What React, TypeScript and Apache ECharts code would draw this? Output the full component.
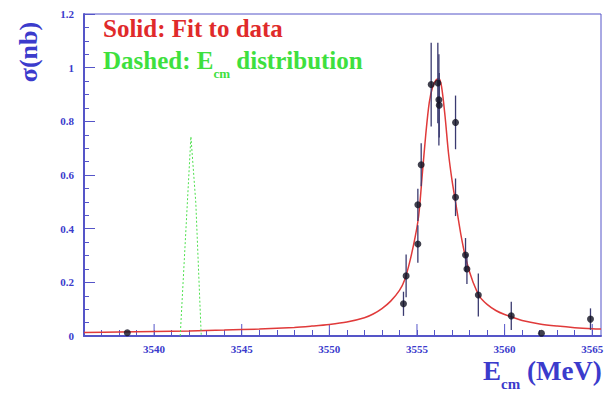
import React, { useEffect, useRef } from "react";
import * as echarts from "echarts";

// Fit curve
const fitE = [3536.0, 3538.0, 3540.0, 3542.0, 3544.0, 3546.0, 3548.0, 3549.0, 3550.0, 3551.0, 3552.0, 3552.5, 3553.0, 3553.5, 3554.0, 3554.3, 3554.6, 3554.9, 3555.1, 3555.3, 3555.5, 3555.7, 3555.9, 3556.1, 3556.25, 3556.4, 3556.6, 3556.8, 3557.0, 3557.2, 3557.5, 3557.8, 3558.2, 3558.6, 3559.0, 3559.5, 3560.0, 3560.5, 3561.0, 3562.0, 3563.0, 3564.0, 3565.0, 3565.5];
const fitSigma = [0.013, 0.015, 0.017, 0.019, 0.022, 0.026, 0.032, 0.037, 0.043, 0.052, 0.068, 0.082, 0.102, 0.13, 0.17, 0.21, 0.28, 0.37, 0.45, 0.6, 0.75, 0.87, 0.93, 0.955, 0.96, 0.93, 0.82, 0.68, 0.58, 0.5, 0.38, 0.285, 0.2, 0.145, 0.118, 0.095, 0.08, 0.069, 0.058, 0.045, 0.037, 0.031, 0.027, 0.026];

// Ecm distribution (dashed)
const distE = [3541.49, 3542.1, 3542.38, 3542.69];
const distVal = [0.0, 0.743, 0.496, 0.0];

// Measured points
const ptE = [3538.47, 3554.23, 3554.38, 3555.05, 3555.05, 3555.24, 3555.81, 3556.19, 3556.25, 3556.27, 3557.2, 3557.2, 3557.77, 3557.85, 3558.5, 3560.38, 3562.1, 3564.9];
const ptSigma = [0.012, 0.12, 0.224, 0.343, 0.489, 0.638, 0.937, 0.943, 0.88, 0.86, 0.796, 0.517, 0.302, 0.25, 0.153, 0.075, 0.01, 0.063];
const ptErr = [0, 0.045, 0.08, 0.07, 0.06, 0.08, 0.156, 0.15, 0.17, 0.12, 0.1, 0.07, 0.063, 0.056, 0.08, 0.053, 0, 0.04];

const xMajorTicks = [3540, 3545, 3550, 3555, 3560, 3565];
const yTickLabels = ["0", "0.2", "0.4", "0.6", "0.8", "1", "1.2"];

const BLUE = "#3b3bcc";
const AXIS = "#5555c8";
const SERIF = "Liberation Serif";

export default function App() {
  const ref = useRef<HTMLDivElement>(null);
  useEffect(() => {
    if (!ref.current) return;
    const chart = echarts.init(ref.current, undefined, { renderer: "svg" });
    chart.setOption({
      animation: false,
      backgroundColor: "#ffffff",
      grid: { left: 84, top: 14, right: 10, bottom: 61, show: true, borderColor: AXIS, borderWidth: 1 },
      xAxis: {
        type: "value",
        min: 3536,
        max: 3565.5,
        interval: 1,
        axisLine: { show: true, onZero: false, lineStyle: { color: AXIS, width: 2 } },
        axisTick: { show: true, inside: true, length: 6, lineStyle: { color: AXIS, width: 1 } },
        splitLine: { show: false },
        axisLabel: {
          color: BLUE,
          fontFamily: SERIF,
          fontWeight: "bold",
          fontSize: 11,
          margin: 7,
          showMinLabel: true,
          showMaxLabel: false,
          formatter: (v: number) => (xMajorTicks.indexOf(Math.round(v)) >= 0 && Math.abs(v - Math.round(v)) < 1e-6 ? String(Math.round(v)) : ""),
        },
      },
      yAxis: {
        type: "value",
        min: 0,
        max: 1.2,
        interval: 0.2,
        axisLine: { show: true, onZero: false, lineStyle: { color: AXIS, width: 2 } },
        axisTick: { show: true, inside: true, length: 11, lineStyle: { color: AXIS, width: 1 } },
        minorTick: { show: true, splitNumber: 4, length: 5, lineStyle: { color: AXIS, width: 1 } },
        splitLine: { show: false },
        axisLabel: {
          color: BLUE,
          fontFamily: SERIF,
          fontWeight: "bold",
          fontSize: 11,
          margin: 10,
          formatter: (v: number) => yTickLabels[Math.round(v / 0.2)] ?? "",
        },
      },
      series: [
        {
          type: "custom",
          name: "majorTicks",
          silent: true,
          data: xMajorTicks.map((v) => [v, 0]),
          renderItem: (params: any, api: any) => {
            const p = api.coord([api.value(0), 0]);
            return {
              type: "line",
              shape: { x1: p[0], y1: p[1], x2: p[0], y2: p[1] - 12 },
              style: { stroke: AXIS, lineWidth: 1 },
            };
          },
          z: 1,
        },
        {
          type: "line",
          name: "fit",
          data: fitE.map((e, i) => [e, fitSigma[i]]),
          showSymbol: false,
          smooth: 0.3,
          lineStyle: { color: "#e03a3a", width: 1.5 },
          z: 2,
        },
        {
          type: "line",
          name: "dist",
          data: distE.map((e, i) => [e, distVal[i]]),
          showSymbol: false,
          lineStyle: { color: "#4ee04e", width: 1, type: [2, 2] },
          z: 2,
        },
        {
          type: "custom",
          name: "errors",
          data: ptE.map((e, i) => [e, ptSigma[i], ptErr[i]]),
          renderItem: (params: any, api: any) => {
            const x = api.value(0);
            const y = api.value(1);
            const er = api.value(2);
            const a = api.coord([x, y - er]);
            const b = api.coord([x, y + er]);
            return {
              type: "line",
              shape: { x1: a[0], y1: a[1], x2: b[0], y2: b[1] },
              style: { stroke: "#3a3a70", lineWidth: 1.3 },
            };
          },
          z: 3,
        },
        {
          type: "scatter",
          name: "points",
          data: ptE.map((e, i) => [e, ptSigma[i]]),
          symbol: "circle",
          symbolSize: 7,
          itemStyle: { color: "#111122" },
          z: 4,
        },
      ],
      graphic: [
        {
          type: "text",
          x: 28,
          y: 52,
          rotation: Math.PI / 2,
          style: {
            text: "σ(nb)",
            fill: BLUE,
            fontFamily: SERIF,
            fontWeight: "bold",
            fontSize: 26,
            align: "center",
            verticalAlign: "middle",
          },
        },
        {
          type: "text",
          x: 103,
          y: 28,
          style: {
            text: "Solid: Fit to data",
            fill: "#e02a2a",
            fontFamily: SERIF,
            fontWeight: "bold",
            fontSize: 25,
            verticalAlign: "middle",
          },
        },
        {
          type: "text",
          x: 103,
          y: 48,
          style: {
            text: "{a|Dashed: E}{s|cm}{a| distribution}",
            rich: {
              a: { fill: "#3ee03e", fontFamily: SERIF, fontWeight: "bold", fontSize: 25, lineHeight: 27, verticalAlign: "top" },
              s: { fill: "#3ee03e", fontFamily: SERIF, fontWeight: "bold", fontSize: 13, lineHeight: 13, padding: [19, 0, 0, 0], verticalAlign: "top" },
            },
          },
        },
        {
          type: "text",
          x: 483,
          y: 357,
          style: {
            text: "{a|E}{s|cm}{a| (MeV)}",
            rich: {
              a: { fill: BLUE, fontFamily: SERIF, fontWeight: "bold", fontSize: 27, lineHeight: 26, verticalAlign: "top" },
              s: { fill: BLUE, fontFamily: SERIF, fontWeight: "bold", fontSize: 15, lineHeight: 15, padding: [19, 0, 0, 0], verticalAlign: "top" },
            },
          },
        },
      ],
    });
    return () => chart.dispose();
  }, []);
  return <div ref={ref} style={{ width: 611, height: 397, position: "absolute", left: 0, top: 0 }} />;
}
